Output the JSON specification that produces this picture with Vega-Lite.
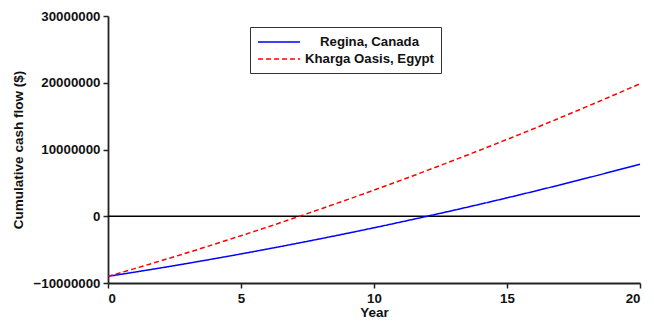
{
  "$schema": "https://vega.github.io/schema/vega-lite/v6.json",
  "width": 532,
  "height": 267,
  "autosize": {"type": "none"},
  "padding": {"left": 108, "top": 16, "right": 14, "bottom": 44},
  "background": "white",
  "config": {
    "view": {"stroke": null},
    "font": "Liberation Sans",
    "axis": {
      "domainColor": "#222222",
      "domainWidth": 1.8,
      "tickColor": "#222222",
      "tickWidth": 1.5,
      "grid": false,
      "labelFont": "Liberation Sans",
      "labelFontWeight": "bold",
      "labelFontSize": 13.3,
      "labelColor": "#111111",
      "titleFont": "Liberation Sans",
      "titleFontWeight": "bold",
      "titleFontSize": 13.5,
      "titleColor": "#111111"
    }
  },
  "datasets": {
    "flows": [
      {"year": 0, "series": "Regina, Canada", "cash": -9000000},
      {"year": 1, "series": "Regina, Canada", "cash": -8374000},
      {"year": 2, "series": "Regina, Canada", "cash": -7725000},
      {"year": 3, "series": "Regina, Canada", "cash": -7054000},
      {"year": 4, "series": "Regina, Canada", "cash": -6360000},
      {"year": 5, "series": "Regina, Canada", "cash": -5644000},
      {"year": 6, "series": "Regina, Canada", "cash": -4905000},
      {"year": 7, "series": "Regina, Canada", "cash": -4144000},
      {"year": 8, "series": "Regina, Canada", "cash": -3360000},
      {"year": 9, "series": "Regina, Canada", "cash": -2554000},
      {"year": 10, "series": "Regina, Canada", "cash": -1725000},
      {"year": 11, "series": "Regina, Canada", "cash": -874000},
      {"year": 12, "series": "Regina, Canada", "cash": 0},
      {"year": 13, "series": "Regina, Canada", "cash": 896000},
      {"year": 14, "series": "Regina, Canada", "cash": 1815000},
      {"year": 15, "series": "Regina, Canada", "cash": 2756000},
      {"year": 16, "series": "Regina, Canada", "cash": 3720000},
      {"year": 17, "series": "Regina, Canada", "cash": 4706000},
      {"year": 18, "series": "Regina, Canada", "cash": 5715000},
      {"year": 19, "series": "Regina, Canada", "cash": 6746000},
      {"year": 20, "series": "Regina, Canada", "cash": 7800000},
      {"year": 0, "series": "Kharga Oasis, Egypt", "cash": -9000000},
      {"year": 1, "series": "Kharga Oasis, Egypt", "cash": -7843000},
      {"year": 2, "series": "Kharga Oasis, Egypt", "cash": -6657000},
      {"year": 3, "series": "Kharga Oasis, Egypt", "cash": -5440000},
      {"year": 4, "series": "Kharga Oasis, Egypt", "cash": -4192000},
      {"year": 5, "series": "Kharga Oasis, Egypt", "cash": -2915000},
      {"year": 6, "series": "Kharga Oasis, Egypt", "cash": -1609000},
      {"year": 7, "series": "Kharga Oasis, Egypt", "cash": -271000},
      {"year": 8, "series": "Kharga Oasis, Egypt", "cash": 1097000},
      {"year": 9, "series": "Kharga Oasis, Egypt", "cash": 2493000},
      {"year": 10, "series": "Kharga Oasis, Egypt", "cash": 3921000},
      {"year": 11, "series": "Kharga Oasis, Egypt", "cash": 5379000},
      {"year": 12, "series": "Kharga Oasis, Egypt", "cash": 6866000},
      {"year": 13, "series": "Kharga Oasis, Egypt", "cash": 8384000},
      {"year": 14, "series": "Kharga Oasis, Egypt", "cash": 9932000},
      {"year": 15, "series": "Kharga Oasis, Egypt", "cash": 11510000},
      {"year": 16, "series": "Kharga Oasis, Egypt", "cash": 13117000},
      {"year": 17, "series": "Kharga Oasis, Egypt", "cash": 14756000},
      {"year": 18, "series": "Kharga Oasis, Egypt", "cash": 16424000},
      {"year": 19, "series": "Kharga Oasis, Egypt", "cash": 18121000},
      {"year": 20, "series": "Kharga Oasis, Egypt", "cash": 19850000}
    ],
    "zero": [{"y": 0}]
  },
  "layer": [
    {
      "data": {"name": "zero"},
      "mark": {"type": "rule", "color": "#000000", "strokeWidth": 1.5},
      "encoding": {
        "y": {"field": "y", "type": "quantitative", "scale": {"domain": [-10000000, 30000000]}}
      }
    },
    {
      "data": {"name": "flows"},
      "mark": {"type": "line", "strokeWidth": 1.5, "interpolate": "monotone"},
      "encoding": {
        "x": {
          "field": "year", "type": "quantitative", "title": "Year",
          "scale": {"domain": [0, 20], "nice": false},
          "axis": {"values": [0, 5, 10, 15, 20], "tickSize": 5, "labelPadding": 3, "titlePadding": 1}
        },
        "y": {
          "field": "cash", "type": "quantitative", "title": "Cumulative cash flow ($)",
          "scale": {"domain": [-10000000, 30000000], "nice": false},
          "axis": {
            "values": [-10000000, -5000000, 0, 5000000, 10000000, 15000000, 20000000, 25000000, 30000000],
            "labelExpr": "datum.value % 10000000 == 0 ? format(datum.value, 'd') : ''",
            "tickSize": 5, "labelPadding": 3, "titlePadding": 8
          }
        },
        "color": {
          "field": "series", "type": "nominal",
          "scale": {"domain": ["Regina, Canada", "Kharga Oasis, Egypt"], "range": ["#0000FF", "#FF0000"]},
          "legend": {
            "orient": "none", "legendX": 142, "legendY": 11, "title": null,
            "strokeColor": "#333333", "padding": 7,
            "symbolType": "M-1,0H5", "symbolSize": 196, "symbolStrokeWidth": 1.5,
            "labelFont": "Liberation Sans", "labelFontWeight": "bold", "labelFontSize": 13.2,
            "labelColor": "#111111", "labelAlign": "center", "labelOffset": 96.5, "rowPadding": 2
          }
        },
        "strokeDash": {
          "field": "series", "type": "nominal",
          "scale": {"domain": ["Regina, Canada", "Kharga Oasis, Egypt"], "range": [[1, 0], [5, 3]]},
          "legend": null
        },
        "detail": {"field": "series"}
      }
    }
  ]
}
